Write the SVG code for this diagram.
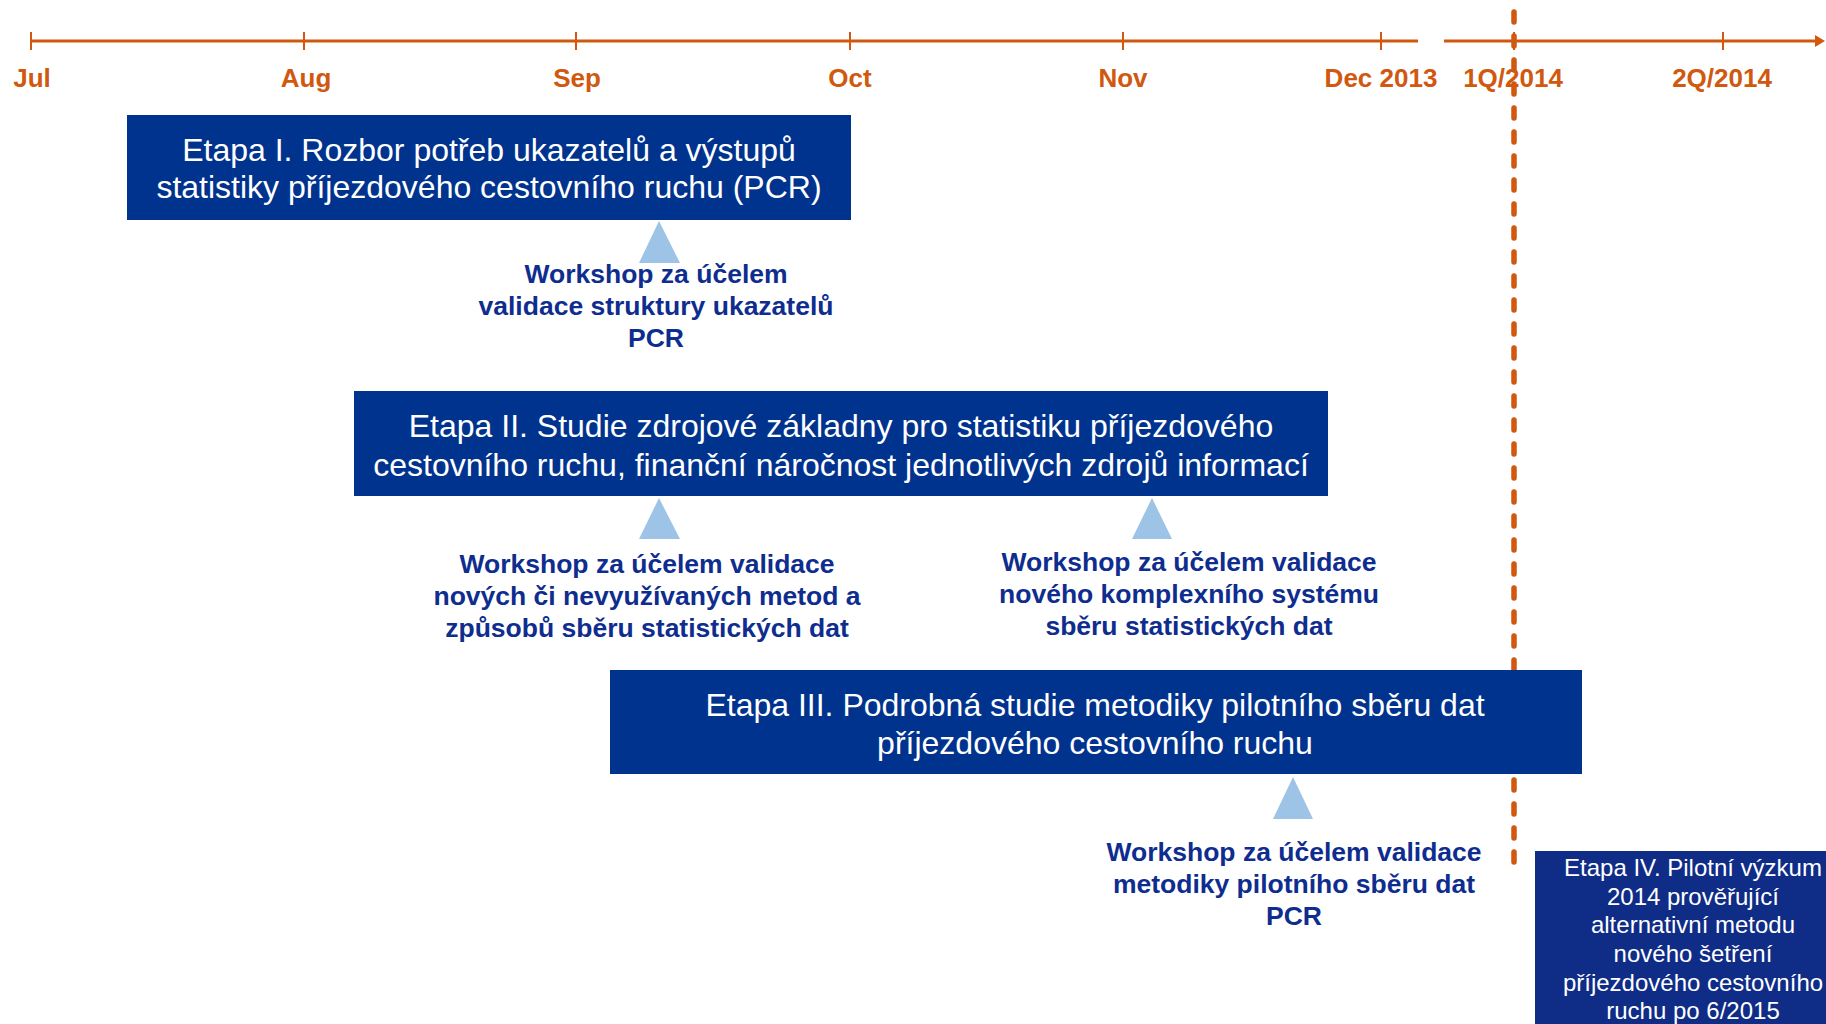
<svg xmlns="http://www.w3.org/2000/svg" width="1826" height="1024" viewBox="0 0 1826 1024">
<style>
.axis{stroke:#D0580F;stroke-width:3;fill:none}
.tick{stroke:#D0580F;stroke-width:2}
.lbl{font-family:"Liberation Sans",Arial,sans-serif;font-weight:bold;font-size:26px;fill:#D0580F;text-anchor:middle}
.box{fill:#00338D}
.bt{font-family:"Liberation Sans",Arial,sans-serif;font-size:32px;fill:#FFFFFF;text-anchor:middle}
.bt4{font-family:"Liberation Sans",Arial,sans-serif;font-size:24px;fill:#FFFFFF;text-anchor:middle}
.tri{fill:#9DC3E6}
.ws{font-family:"Liberation Sans",Arial,sans-serif;font-weight:bold;font-size:26.5px;fill:#0E2D8E;text-anchor:middle}
</style>
<defs>
<marker id="arr" markerWidth="10" markerHeight="12" refX="1" refY="6" orient="auto" markerUnits="userSpaceOnUse">
<path d="M0,0 L10,6 L0,12 Z" fill="#D0580F"/>
</marker>
</defs>
<rect width="1826" height="1024" fill="#FFFFFF"/>
<g id="timeline">
<line class="axis" x1="31" y1="41" x2="1418" y2="41"/>
<line class="axis" x1="1444" y1="41" x2="1816" y2="41" marker-end="url(#arr)"/>
<line class="tick" x1="31" y1="32" x2="31" y2="50"/>
<line class="tick" x1="304" y1="32" x2="304" y2="50"/>
<line class="tick" x1="576" y1="32" x2="576" y2="50"/>
<line class="tick" x1="850" y1="32" x2="850" y2="50"/>
<line class="tick" x1="1123" y1="32" x2="1123" y2="50"/>
<line class="tick" x1="1381" y1="32" x2="1381" y2="50"/>
<line class="tick" x1="1514" y1="32" x2="1514" y2="50"/>
<line class="tick" x1="1723" y1="32" x2="1723" y2="50"/>
<text class="lbl" x="32" y="87">Jul</text>
<text class="lbl" x="306" y="87">Aug</text>
<text class="lbl" x="577" y="87">Sep</text>
<text class="lbl" x="850" y="87">Oct</text>
<text class="lbl" x="1123" y="87">Nov</text>
<text class="lbl" x="1381" y="87">Dec 2013</text>
<text class="lbl" x="1513" y="87">1Q/2014</text>
<text class="lbl" x="1722" y="87">2Q/2014</text>
</g>
<g id="connectors">
<line x1="1514" y1="12" x2="1514" y2="862" stroke="#D0580F" stroke-width="5.5" stroke-linecap="round" stroke-dasharray="10 14"/>
</g>
<g id="etapa1">
<rect class="box" x="127" y="115" width="724" height="105"/>
<text class="bt" x="489" y="161">Etapa I. Rozbor potřeb ukazatelů a výstupů</text>
<text class="bt" x="489" y="198">statistiky příjezdového cestovního ruchu (PCR)</text>
</g>
<g id="workshop1">
<polygon class="tri" points="659,221 680,263 639,263"/>
<text class="ws" x="656" y="283">Workshop za účelem</text>
<text class="ws" x="656" y="315">validace struktury ukazatelů</text>
<text class="ws" x="656" y="347">PCR</text>
</g>
<g id="etapa2">
<rect class="box" x="354" y="391" width="974" height="105"/>
<text class="bt" x="841" y="437">Etapa II. Studie zdrojové základny pro statistiku příjezdového</text>
<text class="bt" x="841" y="476">cestovního ruchu, finanční náročnost jednotlivých zdrojů informací</text>
</g>
<g id="workshop2">
<polygon class="tri" points="659,498 680,539 639,539"/>
<text class="ws" x="647" y="573">Workshop za účelem validace</text>
<text class="ws" x="647" y="605">nových či nevyužívaných metod a</text>
<text class="ws" x="647" y="637">způsobů sběru statistických dat</text>
</g>
<g id="workshop3">
<polygon class="tri" points="1152,498 1172,539 1132,539"/>
<text class="ws" x="1189" y="571">Workshop za účelem validace</text>
<text class="ws" x="1189" y="603">nového komplexního systému</text>
<text class="ws" x="1189" y="635">sběru statistických dat</text>
</g>
<g id="etapa3">
<rect class="box" x="610" y="670" width="972" height="104"/>
<text class="bt" x="1095" y="716">Etapa III. Podrobná studie metodiky pilotního sběru dat</text>
<text class="bt" x="1095" y="754">příjezdového cestovního ruchu</text>
</g>
<g id="workshop4">
<polygon class="tri" points="1293,777 1313,819 1273,819"/>
<text class="ws" x="1294" y="861">Workshop za účelem validace</text>
<text class="ws" x="1294" y="893">metodiky pilotního sběru dat</text>
<text class="ws" x="1294" y="925">PCR</text>
</g>
<g id="etapa4">
<rect x="1535" y="851" width="300" height="180" fill="#0F2C86"/>
<text class="bt4" x="1693" y="876">Etapa IV. Pilotní výzkum</text>
<text class="bt4" x="1693" y="905">2014 prověřující</text>
<text class="bt4" x="1693" y="933">alternativní metodu</text>
<text class="bt4" x="1693" y="962">nového šetření</text>
<text class="bt4" x="1693" y="991">příjezdového cestovního</text>
<text class="bt4" x="1693" y="1019">ruchu po 6/2015</text>
</g>
</svg>
